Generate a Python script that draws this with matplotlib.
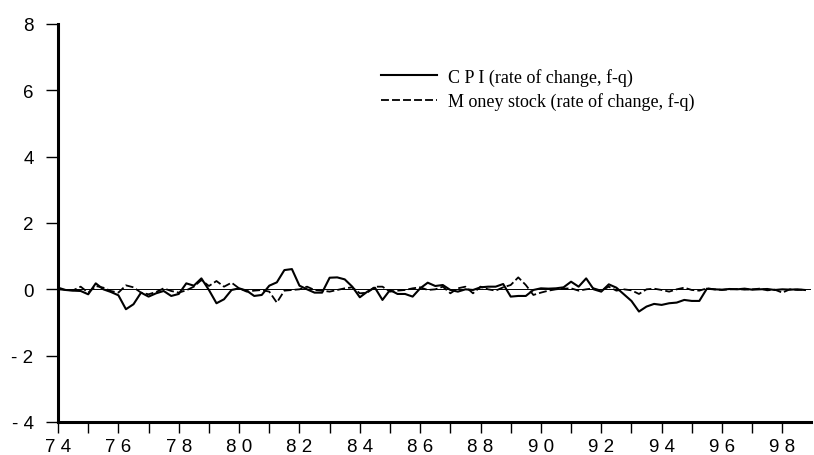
import numpy as np
import matplotlib
matplotlib.use("Agg")
import matplotlib.pyplot as plt
from matplotlib.transforms import ScaledTranslation

# quarterly data, 1974Q1 - 1998Q4
start_year = 74
cpi = [0.05, -0.02, -0.04, -0.05, -0.15, 0.18, 0.0, -0.08,
       -0.18, -0.6, -0.45, -0.1, -0.22, -0.12, -0.05, -0.2,
       -0.14, 0.18, 0.11, 0.33, -0.02, -0.42, -0.3, -0.02,
       0.03, -0.04, -0.2, -0.17, 0.11, 0.21, 0.58, 0.61,
       0.11, 0.0, -0.1, -0.1, 0.35, 0.36, 0.3, 0.08,
       -0.24, -0.07, 0.05, -0.32, -0.02, -0.14, -0.14, -0.22,
       0.03, 0.2, 0.1, 0.13, -0.02, -0.07, 0.0, -0.02,
       0.06, 0.08, 0.08, 0.16, -0.22, -0.2, -0.2, -0.02,
       0.03, 0.02, 0.03, 0.06, 0.23, 0.08, 0.33, 0.0,
       -0.07, 0.15, 0.05, -0.15, -0.35, -0.67, -0.52, -0.44,
       -0.47, -0.42, -0.4, -0.32, -0.35, -0.35, 0.02, 0.0,
       -0.01, 0.01, 0.0, 0.02, -0.01, 0.0, 0.01, -0.02,
       0.0, -0.01, 0.0, -0.02]
money = [0.0, -0.02, -0.03, 0.08, -0.1, 0.1, 0.05, -0.05,
         -0.1, 0.12, 0.06, -0.1, -0.15, -0.08, 0.03, -0.05,
         -0.1, -0.03, 0.08, 0.28, 0.1, 0.25, 0.08, 0.2,
         0.03, -0.07, -0.04, -0.02, -0.07, -0.4, -0.04, -0.02,
         0.0, 0.08, -0.02, -0.04, -0.07, -0.02, 0.03, 0.06,
         -0.12, -0.1, 0.08, 0.08, -0.07, -0.04, -0.02, 0.03,
         0.06, -0.02, 0.0, 0.08, -0.12, 0.03, 0.08, -0.12,
         0.08, 0.0, -0.04, 0.06, 0.13, 0.36, 0.13, -0.17,
         -0.1, -0.04, 0.0, 0.02, 0.03, -0.04, 0.0, 0.03,
         -0.04, 0.08, -0.04, 0.0, -0.03, -0.14, 0.0, 0.02,
         -0.02, -0.07, 0.0, 0.05, -0.02, -0.04, 0.03, 0.0,
         -0.02, 0.0, 0.01, -0.01, 0.0, 0.02, -0.03, -0.01,
         -0.1, 0.0, -0.02, -0.01]
cpi_label = "C P I (rate of change, f-q)"
money_label = "M oney stock (rate of change, f-q)"
y_ticks = [-4, -2, 0, 2, 4, 6, 8]
y_ticklabels = ["- 4", "- 2", "0", "2", "4", "6", "8"]
x_years = list(range(74, 99))

t = start_year + np.arange(len(cpi)) / 4.0

fig = plt.figure(figsize=(8.14, 4.56), dpi=100)
ax = fig.add_axes([0.0713, 0.0724, 0.925, 0.8728])

ax.axhline(0, color="black", lw=0.7)
ax.plot(t, cpi, color="black", lw=1.5, label=cpi_label)
ax.plot(t, money, color="black", lw=1.3, dashes=(4.4, 1.7), label=money_label)

ax.set_xlim(74, 98.95)
ax.set_ylim(-4, 8)
ax.set_yticks(y_ticks)
ax.set_yticklabels(y_ticklabels, family="Liberation Sans", fontsize=13.5)
ax.set_xticks(x_years)
ax.set_xticklabels([" ".join(str(y)) if y % 2 == 0 else "" for y in x_years],
                   family="Liberation Sans", fontsize=13.5)

# labels sit a little to the right of their ticks in the original
shift = ScaledTranslation(0.10, 0, fig.dpi_scale_trans)
for lab in ax.get_xticklabels():
    lab.set_transform(lab.get_transform() + shift)

for s in ["top", "right"]:
    ax.spines[s].set_visible(False)
for s in ["left", "bottom"]:
    ax.spines[s].set_linewidth(2.2)
ax.tick_params(axis="y", direction="out", length=8.6, width=1, pad=9)
ax.tick_params(axis="x", direction="out", length=8, width=1, pad=3.5)

ax.legend(loc="upper left", bbox_to_anchor=(0.468, 0.849),
          bbox_transform=fig.transFigure, frameon=False,
          prop={"family": "Liberation Serif", "size": 13},
          handlelength=3.1, handletextpad=0.6, labelspacing=0.36,
          borderpad=0, borderaxespad=0)

fig.savefig("out.png", dpi=100)
